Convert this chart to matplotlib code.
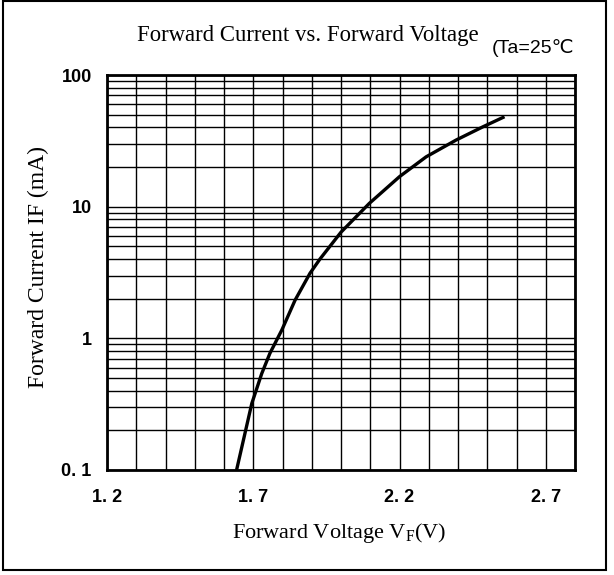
import numpy as np
import matplotlib
matplotlib.use("Agg")
import matplotlib.pyplot as plt
from matplotlib.ticker import MultipleLocator, LogLocator, FixedLocator, FixedFormatter, NullFormatter
from matplotlib.patches import Rectangle

# curve
vf = [1.643, 1.695, 1.729, 1.757, 1.798, 1.843, 1.894, 1.928, 2.0, 2.097, 2.2, 2.291, 2.394, 2.485, 2.559]
i_f = [0.1, 0.32, 0.54, 0.77, 1.16, 1.95, 3.12, 4.0, 6.4, 10.6, 16.9, 23.9, 32.1, 40.4, 48.2]

x_ticks = [1.2, 1.7, 2.2, 2.7]
x_labels = ["1. 2", "1. 7", "2. 2", "2. 7"]
y_ticks = [0.1, 1, 10, 100]
y_labels = ["0. 1", "1", "10", "100"]

serif = ["Liberation Serif", "DejaVu Serif"]
sans = ["Liberation Sans", "DejaVu Sans"]

fig = plt.figure(figsize=(6.14, 5.75), dpi=100)
ax = fig.add_axes([107 / 614, 1 - 470 / 575, 468 / 614, 395 / 575])

ax.set_yscale("log")
ax.set_xlim(1.2, 2.8)
ax.set_ylim(0.1, 100)

ax.plot(vf, i_f, color="black", lw=2.4, solid_capstyle="butt")

# grid: every 0.1 V and every log minor step
ax.xaxis.set_major_locator(FixedLocator(x_ticks))
ax.xaxis.set_major_formatter(FixedFormatter(x_labels))
ax.xaxis.set_minor_locator(MultipleLocator(0.1))
ax.yaxis.set_major_locator(FixedLocator(y_ticks))
ax.yaxis.set_major_formatter(FixedFormatter(y_labels))
ax.yaxis.set_minor_locator(LogLocator(base=10, subs=np.arange(2, 10), numticks=20))
ax.yaxis.set_minor_formatter(NullFormatter())
ax.grid(True, which="both", color="black", lw=1.0)
ax.set_axisbelow(True)

ax.tick_params(which="both", length=0)
ax.tick_params(axis="x", pad=14)
ax.tick_params(axis="y", pad=11)
for lab in ax.get_xticklabels() + ax.get_yticklabels():
    lab.set_fontfamily(sans)
    lab.set_fontweight("bold")
    lab.set_fontsize(13)

for sp in ax.spines.values():
    sp.set_linewidth(2)

ax.set_xlabel("Forward Voltage V$_\\mathregular{F}$(V)", family=serif, fontsize=16)
ax.xaxis.set_label_coords((339 - 107) / 468, -(521 - 470) / 395)
ax.set_ylabel("Forward Current IF (mA)", family=serif, fontsize=17)
ax.yaxis.set_label_coords(-(107 - 49) / 468, (470 - 267) / 395)

fig.text(308 / 614, 1 - 36 / 575, "Forward Current vs. Forward Voltage", family=serif,
         fontsize=16.4, ha="center", va="center")
fig.text(533 / 614, 1 - 48 / 575, "(Ta=25\u2103", family=sans, fontsize=14,
         ha="center", va="center")

# outer frame of the scanned figure
fig.patches.append(Rectangle((3 / 614, 5 / 575), 603 / 614, 569 / 575, transform=fig.transFigure,
                             fill=False, edgecolor="black", lw=1.5))

fig.savefig("out.png", dpi=100)
